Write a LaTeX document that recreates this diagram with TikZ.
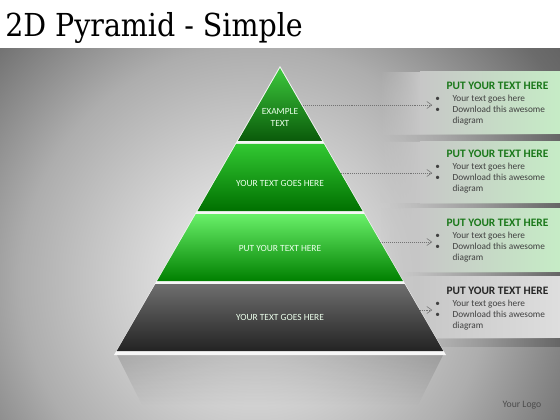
\documentclass[tikz,border=0pt]{standalone}
\usepackage{fontspec}
\setmainfont{Carlito}
\newfontfamily\titlefont{DejaVu Serif Condensed}
\usepackage{tikz}
\usetikzlibrary{arrows.meta,fadings}

\definecolor{topA}{RGB}{60,200,60}
\definecolor{botA}{RGB}{10,90,10}
\definecolor{topB}{RGB}{50,200,50}
\definecolor{botB}{RGB}{0,112,0}
\definecolor{topC}{RGB}{105,240,105}
\definecolor{botC}{RGB}{0,128,0}
\definecolor{topD}{RGB}{110,110,110}
\definecolor{botD}{RGB}{35,35,35}
\definecolor{panelgreen}{RGB}{198,236,198}
\definecolor{headgreen}{RGB}{26,120,26}
\definecolor{bodygray}{RGB}{64,64,64}

\pgfdeclareradialshading{backdrop}{\pgforigin}{%
  color(0bp)=(black!9); color(5bp)=(black!12); color(15bp)=(black!32); color(23bp)=(black!58); color(28bp)=(black!66); color(50bp)=(black!66)}

\tikzset{
  tierlabel/.style={text=white!92!green, font=\fontsize{6.7}{8.2}\selectfont, align=center},
  headtext/.style={text=headgreen, font=\fontsize{8.1}{9}\selectfont\bfseries},
  bodytext/.style={text=bodygray, font=\fontsize{6.6}{7.8}\selectfont, anchor=north west, inner sep=0pt},
  linkarrow/.style={densely dotted, black!55, thin, -{Straight Barb[length=3.5pt,width=5pt,open]}, shorten >=2pt},
  panel/.style={left color=black!22, right color=panelgreen},
  leadin/.style={fill=black!22, path fading=west},
  strip/.style={left color=black!30, right color=black!60, path fading=west}
}

\newcommand{\bodylines}{%
  \begin{tabular}{@{}l@{\hspace{9pt}}l@{}}
  \textbullet & Your text goes here\\
  \textbullet & Download this awesome\\
              & diagram
  \end{tabular}}

\begin{document}
\begin{tikzpicture}[x=0.025cm, y=-0.025cm]
  \useasboundingbox (0,0) rectangle (560,420);
  \fill[white] (0,0) rectangle (560,49);
  \begin{scope}
    \clip (0,49) rectangle (560,420);
    \fill[black!64] (0,49) rectangle (560,420);
    \shade[shading=backdrop] (255,280) circle (390);
  \end{scope}

  % title
  \node[anchor=base west, inner sep=0pt, font=\titlefont\fontsize{22.5}{26}\selectfont] (title) at (5,37) {2D Pyramid - Simple};

  % panels on the right
  \fill[leadin] (380,72) rectangle (420,135);
  \shade[panel] (420,72) rectangle (560,135);
  \shade[strip] (390,135) rectangle (560,141);
  \fill[leadin] (380,142) rectangle (420,203);
  \shade[panel] (420,142) rectangle (560,203);
  \shade[strip] (390,203) rectangle (560,208);
  \fill[leadin] (380,208) rectangle (420,272);
  \shade[panel] (420,208) rectangle (560,272);
  \shade[strip] (390,272) rectangle (560,276);
  \fill[leadin] (380,276) rectangle (420,338);
  \shade[left color=black!22, right color=black!13] (420,276) rectangle (560,338);
  \shade[strip] (390,338) rectangle (560,346);

  % reflection under the pyramid
  \fill[black, opacity=0.15, path fading=south] (117,355) -- (443,355) -- (418,405) -- (142,405) -- cycle;

  % pyramid
  \fill[black!3] (280,66) -- (446,355) -- (114,355) -- cycle;
  \shade[top color=topA, bottom color=botA] (280,68) -- (322.1,141) -- (237.9,141) -- cycle;
  \shade[top color=topB, bottom color=botB] (236.1,144) -- (323.9,144) -- (362.5,211) -- (197.5,211) -- cycle;
  \shade[top color=topC, bottom color=botC] (195.8,214) -- (364.2,214) -- (402.9,281) -- (157.1,281) -- cycle;
  \shade[top color=topD, bottom color=botD] (155.4,284) -- (404.6,284) -- (443.3,351) -- (116.7,351) -- cycle;

  \node[tierlabel] (lab1) at (280,117.5) {EXAMPLE\\TEXT};
  \node[tierlabel] (lab2) at (280,183) {YOUR TEXT GOES HERE};
  \node[tierlabel] (lab3) at (280,248) {PUT YOUR TEXT HERE};
  \node[tierlabel] (lab4) at (280,317) {YOUR TEXT GOES HERE};

  % panel texts
  \node[headtext] (head1) at (497.5,86) {PUT YOUR TEXT HERE};
  \node[bodytext] (text1) at (435,94) {\bodylines};
  \node[headtext] (head2) at (497.5,154) {PUT YOUR TEXT HERE};
  \node[bodytext] (text2) at (435,162) {\bodylines};
  \node[headtext] (head3) at (497.5,223) {PUT YOUR TEXT HERE};
  \node[bodytext] (text3) at (435,231) {\bodylines};
  \node[headtext, text=black!85] (head4) at (497.5,291) {PUT YOUR TEXT HERE};
  \node[bodytext] (text4) at (435,299) {\bodylines};

  % connectors
  \coordinate (e1) at (301.3,105);
  \coordinate (e2) at (340.6,173);
  \coordinate (e3) at (380.4,242);
  \coordinate (e4) at (419.6,310);
  \draw[linkarrow] (e1) -- (e1 -| text1.west);
  \draw[linkarrow] (e2) -- (e2 -| text2.west);
  \draw[linkarrow] (e3) -- (e3 -| text3.west);
  \draw[linkarrow] (e4) -- (e4 -| text4.west);

  \node[text=black!70, font=\fontsize{6.9}{8}\selectfont] (logo) at (522,405) {Your Logo};
\end{tikzpicture}
\end{document}
